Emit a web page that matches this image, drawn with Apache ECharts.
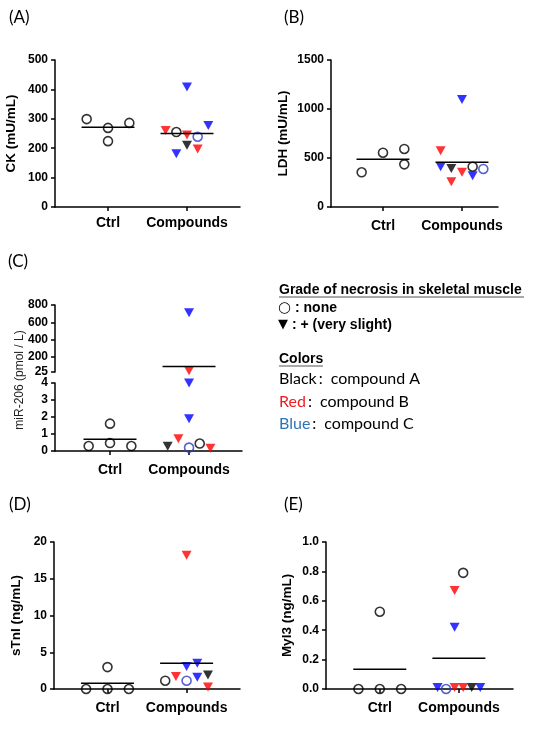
<!DOCTYPE html>
<html>
<head>
<meta charset="utf-8">
<script src="https://cdn.jsdelivr.net/npm/echarts@6/dist/echarts.min.js"></script>
<style>
  html, body { margin: 0; padding: 0; background: #fff; }
  #chart { width: 538px; height: 745px; }
</style>
</head>
<body>
<div id="chart"></div>
<script>
// group labels on the x axis
const categories = ['Ctrl', 'Compounds']

// compound-treated animals, same order in every panel
const compoundOf = ['A', 'A', 'B', 'B', 'B', 'C', 'C', 'C', 'C']
const gradeOf = ['none', 'slight', 'slight', 'slight', 'slight', 'none', 'slight', 'slight', 'slight']

// (A) CK (mU/mL)
const ckCtrl = [299, 269, 224, 286]
const ckComp = [255, 210, 260, 245, 197, 239, 408, 181, 277]
const ckMean = [271, 250]

// (B) LDH (mU/mL)
const ldhCtrl = [354, 554, 592, 435]
const ldhComp = [411, 394, 575, 258, 354, 388, 411, 1098, 320]
const ldhMean = [486, 456]

// (C) miR-206 (pmol / L), broken axis
const mirCtrl = [0.29, 0.47, 1.61, 0.29]
const mirComp = [0.44, 0.28, 0.72, 40, 0.16, 0.2, 1.9, 4.0, 710]
const mirMean = [0.69, 90]
const mirUpperTicks = [25, 200, 400, 600, 800]

// (D) sTnI (ng/mL)
const tniCtrl = [0, 0, 0, 2.98]
const tniComp = [1.13, 1.9, 1.7, 18.2, 0.27, 1.13, 3.07, 3.5, 1.6]
const tniMean = [0.77, 3.5]

// (E) Myl3 (ng/mL)
const mylCtrl = [0, 0, 0, 0.526]
const mylComp = [0.79, 0.01, 0.67, 0.01, 0.01, 0, 0.42, 0.01, 0.01]
const mylMean = [0.134, 0.209]

// horizontal dodge of the dots (in slots), not data
const ckCtrlSlot = [-2, 0, 0, 2]
const ckCompSlot = [-1, 0, -2, 0, 1, 1, 0, -1, 2]
const ldhCtrlSlot = [-2, 0, 2, 2]
const ldhCompSlot = [1, -1, -2, -1, 0, 2, -2, 0, 1]
const mirCtrlSlot = [-2, 0, 0, 2]
const mirCompSlot = [1, -2, -1, 0, 2, 0, 0, 0, 0]
const tniCtrlSlot = [-2, 0, 2, 0]
const tniCompSlot = [-2, 2, -1, 0, 2, 0, 0, 1, 1]
const mylCtrlSlot = [-2, 0, 2, 0]
const mylCompSlot = [0.4, 1.2, -0.4, -0.4, 0.4, -1.2, -0.4, -2, 2]

const SLOT = 0.135
const HALF_MEAN = 0.335
const FONT = '"Liberation Sans", Arial, sans-serif'
const COLORS = { A: '#000000', B: '#ff0000', C: '#0000ff' }
const RING = { A: '#000000', B: '#ff0000', C: '#2b3cc4' }
const TRI = 'path://M0,0L10,0L5,9Z'

const grids = []
const xAxes = []
const yAxes = []
const series = []

const axisLineStyle = { color: '#000', width: 1.5 }

// one grid + axes
const addGrid = (g, x, y) => {
  const gi = grids.length
  grids.push(g)
  xAxes.push({
    gridIndex: gi,
    type: 'value',
    min: x.min,
    max: x.max,
    show: x.show !== false,
    splitLine: { show: false },
    axisLine: { lineStyle: axisLineStyle },
    axisTick: { customValues: [1, 2], length: 4, lineStyle: axisLineStyle },
    axisLabel: {
      customValues: [1, 2],
      margin: x.margin,
      formatter: v => categories[Math.round(v) - 1],
      color: '#000', fontWeight: 'bold', fontSize: 14, fontFamily: FONT
    }
  })
  const yAx = {
    gridIndex: gi,
    type: 'value',
    min: y.min,
    max: y.max,
    splitLine: { show: false },
    axisLine: { show: true, lineStyle: axisLineStyle },
    axisTick: { show: true, length: 4, lineStyle: axisLineStyle },
    axisLabel: {
      margin: 7,
      color: '#000', fontWeight: 'bold', fontSize: 12, fontFamily: FONT,
      formatter: y.fmt || (v => String(v))
    }
  }
  if (y.interval) yAx.interval = y.interval
  if (y.ticks) {
    yAx.axisTick.customValues = y.ticks
    yAx.axisLabel.customValues = y.ticks
  }
  if (y.name) {
    yAx.name = y.name
    yAx.nameLocation = 'middle'
    yAx.nameGap = y.nameGap
    yAx.nameTextStyle = { color: '#000', fontWeight: 'bold', fontSize: 13.5, fontFamily: FONT }
  }
  yAxes.push(yAx)
  return gi
}

const pointItem = (x, y, comp, grade) => {
  if (grade === 'none') {
    return {
      value: [x, y],
      symbol: 'circle',
      symbolSize: 9,
      itemStyle: { color: 'rgba(0,0,0,0)', borderColor: RING[comp], borderWidth: 1.6 }
    }
  }
  return {
    value: [x, y],
    symbol: TRI,
    symbolSize: [10, 9],
    itemStyle: { color: COLORS[comp], borderWidth: 0 }
  }
}

// dots for one grid (keep = which values belong to that grid)
const addDots = (gi, ctrl, ctrlSlot, comp, compSlot, keep = () => true) => {
  const data = []
  ctrl.forEach((v, i) => {
    if (keep(v)) data.push(pointItem(1 + ctrlSlot[i] * SLOT, v, 'A', 'none'))
  })
  comp.forEach((v, i) => {
    if (keep(v)) data.push(pointItem(2 + compSlot[i] * SLOT, v, compoundOf[i], gradeOf[i]))
  })
  series.push({
    type: 'scatter', xAxisIndex: gi, yAxisIndex: gi, clip: false, z: 2, silent: true, data
  })
}

const addMean = (gi, group, m) => {
  series.push({
    type: 'line', xAxisIndex: gi, yAxisIndex: gi, z: 3, silent: true,
    symbol: 'none', lineStyle: { color: '#000', width: 1.5 },
    data: [[group - HALF_MEAN, m], [group + HALF_MEAN, m]]
  })
}

// (A)
let gi = addGrid({ left: 55, top: 60, width: 185, height: 147 },
  { min: 0.329, max: 2.671, margin: 9 },
  { min: 0, max: 500, interval: 100, name: 'CK (mU/mL)', nameGap: 37 })
addDots(gi, ckCtrl, ckCtrlSlot, ckComp, ckCompSlot)
addMean(gi, 1, ckMean[0]); addMean(gi, 2, ckMean[1])

// (B)
gi = addGrid({ left: 331, top: 60, width: 167, height: 147 },
  { min: 0.342, max: 2.456, margin: 12 },
  { min: 0, max: 1500, interval: 500, name: 'LDH (mU/mL)', nameGap: 41 })
addDots(gi, ldhCtrl, ldhCtrlSlot, ldhComp, ldhCompSlot)
addMean(gi, 1, ldhMean[0]); addMean(gi, 2, ldhMean[1])

// (C) upper segment 25..800
gi = addGrid({ left: 55, top: 305, width: 187, height: 67 },
  { min: 0.304, max: 2.67, show: false },
  { min: 25, max: 800, ticks: mirUpperTicks })
addDots(gi, mirCtrl, mirCtrlSlot, mirComp, mirCompSlot, v => v >= 25)
mirMean.forEach((m, i) => { if (m >= 25) addMean(gi, i + 1, m) })
// (C) lower segment 0..4
gi = addGrid({ left: 55, top: 383, width: 187, height: 68 },
  { min: 0.304, max: 2.67, margin: 12 },
  { min: 0, max: 4, interval: 1 })
addDots(gi, mirCtrl, mirCtrlSlot, mirComp, mirCompSlot, v => v < 25)
mirMean.forEach((m, i) => { if (m < 25) addMean(gi, i + 1, m) })

// (D)
gi = addGrid({ left: 54, top: 542, width: 186, height: 147 },
  { min: 0.324, max: 2.675, margin: 12 },
  { min: 0, max: 20, interval: 5, name: 'sTnI (ng/mL)', nameGap: 31 })
addDots(gi, tniCtrl, tniCtrlSlot, tniComp, tniCompSlot)
addMean(gi, 1, tniMean[0]); addMean(gi, 2, tniMean[1])

// (E)
gi = addGrid({ left: 326, top: 542, width: 187, height: 147 },
  { min: 0.32, max: 2.684, margin: 12 },
  { min: 0, max: 1, interval: 0.2, name: 'Myl3 (ng/mL)', nameGap: 32, fmt: v => v.toFixed(1) })
addDots(gi, mylCtrl, mylCtrlSlot, mylComp, mylCompSlot)
addMean(gi, 1, mylMean[0]); addMean(gi, 2, mylMean[1])

// panel letters, broken-axis title and the key
const LETTER_FONT = '17px Lato, "Open Sans", sans-serif'
const letter = (t, x, y) => ({
  type: 'text', x, y,
  style: { text: t, font: LETTER_FONT, fill: '#000', verticalAlign: 'middle' }
})
const keyBold = 'bold 14px ' + FONT
const symFont = '15px "DejaVu Sans", sans-serif'
const graphic = [
  letter('(A)', 9, 18),
  letter('(B)', 284, 18),
  letter('(C)', 8, 262),
  letter('(D)', 9, 505),
  letter('(E)', 284, 505),
  {
    type: 'text', x: 20, y: 380, rotation: Math.PI / 2,
    style: {
      text: 'miR-206 (pmol / L)', fill: '#222',
      font: '12px ' + FONT, align: 'center', verticalAlign: 'middle'
    }
  },
  {
    type: 'text', x: 279, y: 290,
    style: { text: 'Grade of necrosis in skeletal muscle', font: keyBold, fill: '#000', verticalAlign: 'middle' }
  },
  { type: 'line', shape: { x1: 279, y1: 297, x2: 524, y2: 297 }, style: { stroke: '#555', lineWidth: 1 } },
  {
    type: 'text', x: 278, y: 308,
    style: {
      text: '{s|○}{t| : none}', verticalAlign: 'middle',
      rich: { s: { font: symFont, fill: '#000' }, t: { font: keyBold, fill: '#000' } }
    }
  },
  {
    type: 'text', x: 278, y: 325,
    style: {
      text: '{s|▼}{t| : + (very slight)}', verticalAlign: 'middle',
      rich: { s: { font: '13px "DejaVu Sans", sans-serif', fill: '#000' }, t: { font: keyBold, fill: '#000' } }
    }
  },
  {
    type: 'text', x: 279, y: 359,
    style: { text: 'Colors', font: keyBold, fill: '#000', verticalAlign: 'middle' }
  },
  { type: 'line', shape: { x1: 279, y1: 366, x2: 323, y2: 366 }, style: { stroke: '#555', lineWidth: 1 } }
]
const keyRows = [
  ['Black', '#000000', '\u2009:\u2002compound A', 379],
  ['Red', '#ee1c24', '\u2009:\u2002compound B', 402],
  ['Blue', '#2e75b6', '\u2009:\u2002compound C', 424]
]
keyRows.forEach(([w, c, rest, y]) => {
  graphic.push({
    type: 'text', x: 279, y,
    style: {
      text: '{w|' + w + '}{r|' + rest + '}',
      verticalAlign: 'middle',
      rich: {
        w: { fill: c, font: '16px Lato, "Open Sans", sans-serif' },
        r: { fill: '#000', font: '16px Lato, "Open Sans", sans-serif' }
      }
    }
  })
})

const chart = echarts.init(document.getElementById('chart'))
chart.setOption({
  animation: false,
  backgroundColor: '#fff',
  grid: grids,
  xAxis: xAxes,
  yAxis: yAxes,
  series,
  graphic
})
</script>
</body>
</html>
